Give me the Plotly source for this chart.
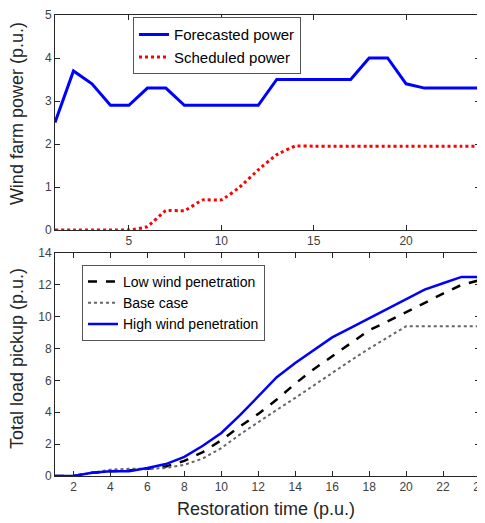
import plotly.graph_objects as go

hours = list(range(1, 25))
forecasted = [2.5, 3.7, 3.4, 2.9, 2.9, 3.3, 3.3, 2.9, 2.9, 2.9, 2.9, 2.9,
              3.5, 3.5, 3.5, 3.5, 3.5, 4.0, 4.0, 3.4, 3.3, 3.3, 3.3, 3.3]
scheduled = [0, 0, 0, 0, 0, 0.08, 0.45, 0.45, 0.7, 0.7, 1.0, 1.4,
             1.75, 1.95, 1.95, 1.95, 1.95, 1.95, 1.95, 1.95, 1.95, 1.95, 1.95, 1.95]

low_wind = [0, 0, 0.2, 0.3, 0.35, 0.45, 0.6, 0.95, 1.5, 2.25, 3.1, 3.9,
            4.8, 5.8, 6.7, 7.5, 8.3, 9.15, 9.7, 10.3, 10.9, 11.45, 12.0, 12.3]
base_case = [0, 0, 0.2, 0.4, 0.45, 0.45, 0.5, 0.7, 1.1, 1.75, 2.6, 3.4,
             4.15, 4.9, 5.7, 6.45, 7.25, 8.0, 8.7, 9.4, 9.4, 9.4, 9.4, 9.4]
high_wind = [0, 0, 0.2, 0.3, 0.3, 0.5, 0.75, 1.2, 1.9, 2.7, 3.8, 5.0,
             6.2, 7.1, 7.9, 8.7, 9.3, 9.9, 10.5, 11.1, 11.7, 12.1, 12.5, 12.5]

top_xticks = [5, 10, 15, 20]
top_yticks = [0, 1, 2, 3, 4, 5]
bot_xticks = list(range(2, 25, 2))
bot_yticks = list(range(0, 15, 2))

FONT = "Liberation Sans, Arial, sans-serif"
AX = "#262626"
TICK = "#404040"

fig = go.Figure()
fig.add_trace(go.Scatter(x=hours, y=forecasted, mode="lines", name="Forecasted power",
                         line=dict(color="#0000ff", width=3), xaxis="x", yaxis="y", legend="legend"))
fig.add_trace(go.Scatter(x=hours, y=scheduled, mode="lines", name="Scheduled power",
                         line=dict(color="#ff0000", width=3, dash="dot", shape="spline", smoothing=0.4),
                         xaxis="x", yaxis="y", legend="legend"))
fig.add_trace(go.Scatter(x=hours, y=low_wind, mode="lines", name="Low wind penetration",
                         line=dict(color="#000000", width=2.5, dash="dash"), xaxis="x2", yaxis="y2", legend="legend2"))
fig.add_trace(go.Scatter(x=hours, y=base_case, mode="lines", name="Base case",
                         line=dict(color="#666666", width=2, dash="dot"), xaxis="x2", yaxis="y2", legend="legend2"))
fig.add_trace(go.Scatter(x=hours, y=high_wind, mode="lines", name="High wind penetration",
                         line=dict(color="#0000ff", width=2.5), xaxis="x2", yaxis="y2", legend="legend2"))

axis_common = dict(showline=True, linecolor=AX, linewidth=1, mirror="ticks", ticks="inside",
                   ticklen=5, tickcolor=AX, showgrid=False, zeroline=False, automargin=False,
                   ticklabeloverflow="allow",
                   tickfont=dict(family=FONT, size=12, color=TICK))

title_font = dict(family=FONT, size=18, color=AX)

fig.update_layout(
    width=477, height=515,
    margin=dict(l=47, r=5, t=7, b=47),
    paper_bgcolor="white", plot_bgcolor="white",
    font=dict(family=FONT, color=AX),
    xaxis=dict(domain=[0, 1], range=[1, 24], tickvals=top_xticks, anchor="y", **axis_common),
    yaxis=dict(domain=[0.5336, 1], range=[0, 5], tickvals=top_yticks, anchor="x", **axis_common),
    xaxis2=dict(domain=[0, 1], range=[1, 24], tickvals=bot_xticks, anchor="y2", **axis_common),
    yaxis2=dict(domain=[0, 0.4837], range=[0, 14], tickvals=bot_yticks, anchor="x2", **axis_common),
    legend=dict(x=0.1835, y=0.995, xanchor="left", yanchor="top",
                bgcolor="white", bordercolor="#555555", borderwidth=1,
                font=dict(family=FONT, size=15, color="#000000"),
                tracegroupgap=0, itemwidth=30),
    legend2=dict(x=0.0635, y=0.4577, xanchor="left", yanchor="top",
                 bgcolor="white", bordercolor="#555555", borderwidth=1,
                 font=dict(family=FONT, size=14, color="#000000"),
                 tracegroupgap=0, itemwidth=30),
    showlegend=True,
    annotations=[
        dict(text="Wind farm power (p.u.)", xref="paper", yref="paper", x=-0.0894, y=0.785,
             xanchor="center", yanchor="middle", textangle=-90, showarrow=False, font=title_font),
        dict(text="Total load pickup (p.u.)", xref="paper", yref="paper", x=-0.0894, y=0.2538,
             xanchor="center", yanchor="middle", textangle=-90, showarrow=False, font=title_font),
        dict(text="Restoration time (p.u.)", xref="paper", yref="paper", x=0.4976, y=-0.0716,
             xanchor="center", yanchor="middle", showarrow=False, font=title_font),
    ],
)

fig.write_html("out.html")
